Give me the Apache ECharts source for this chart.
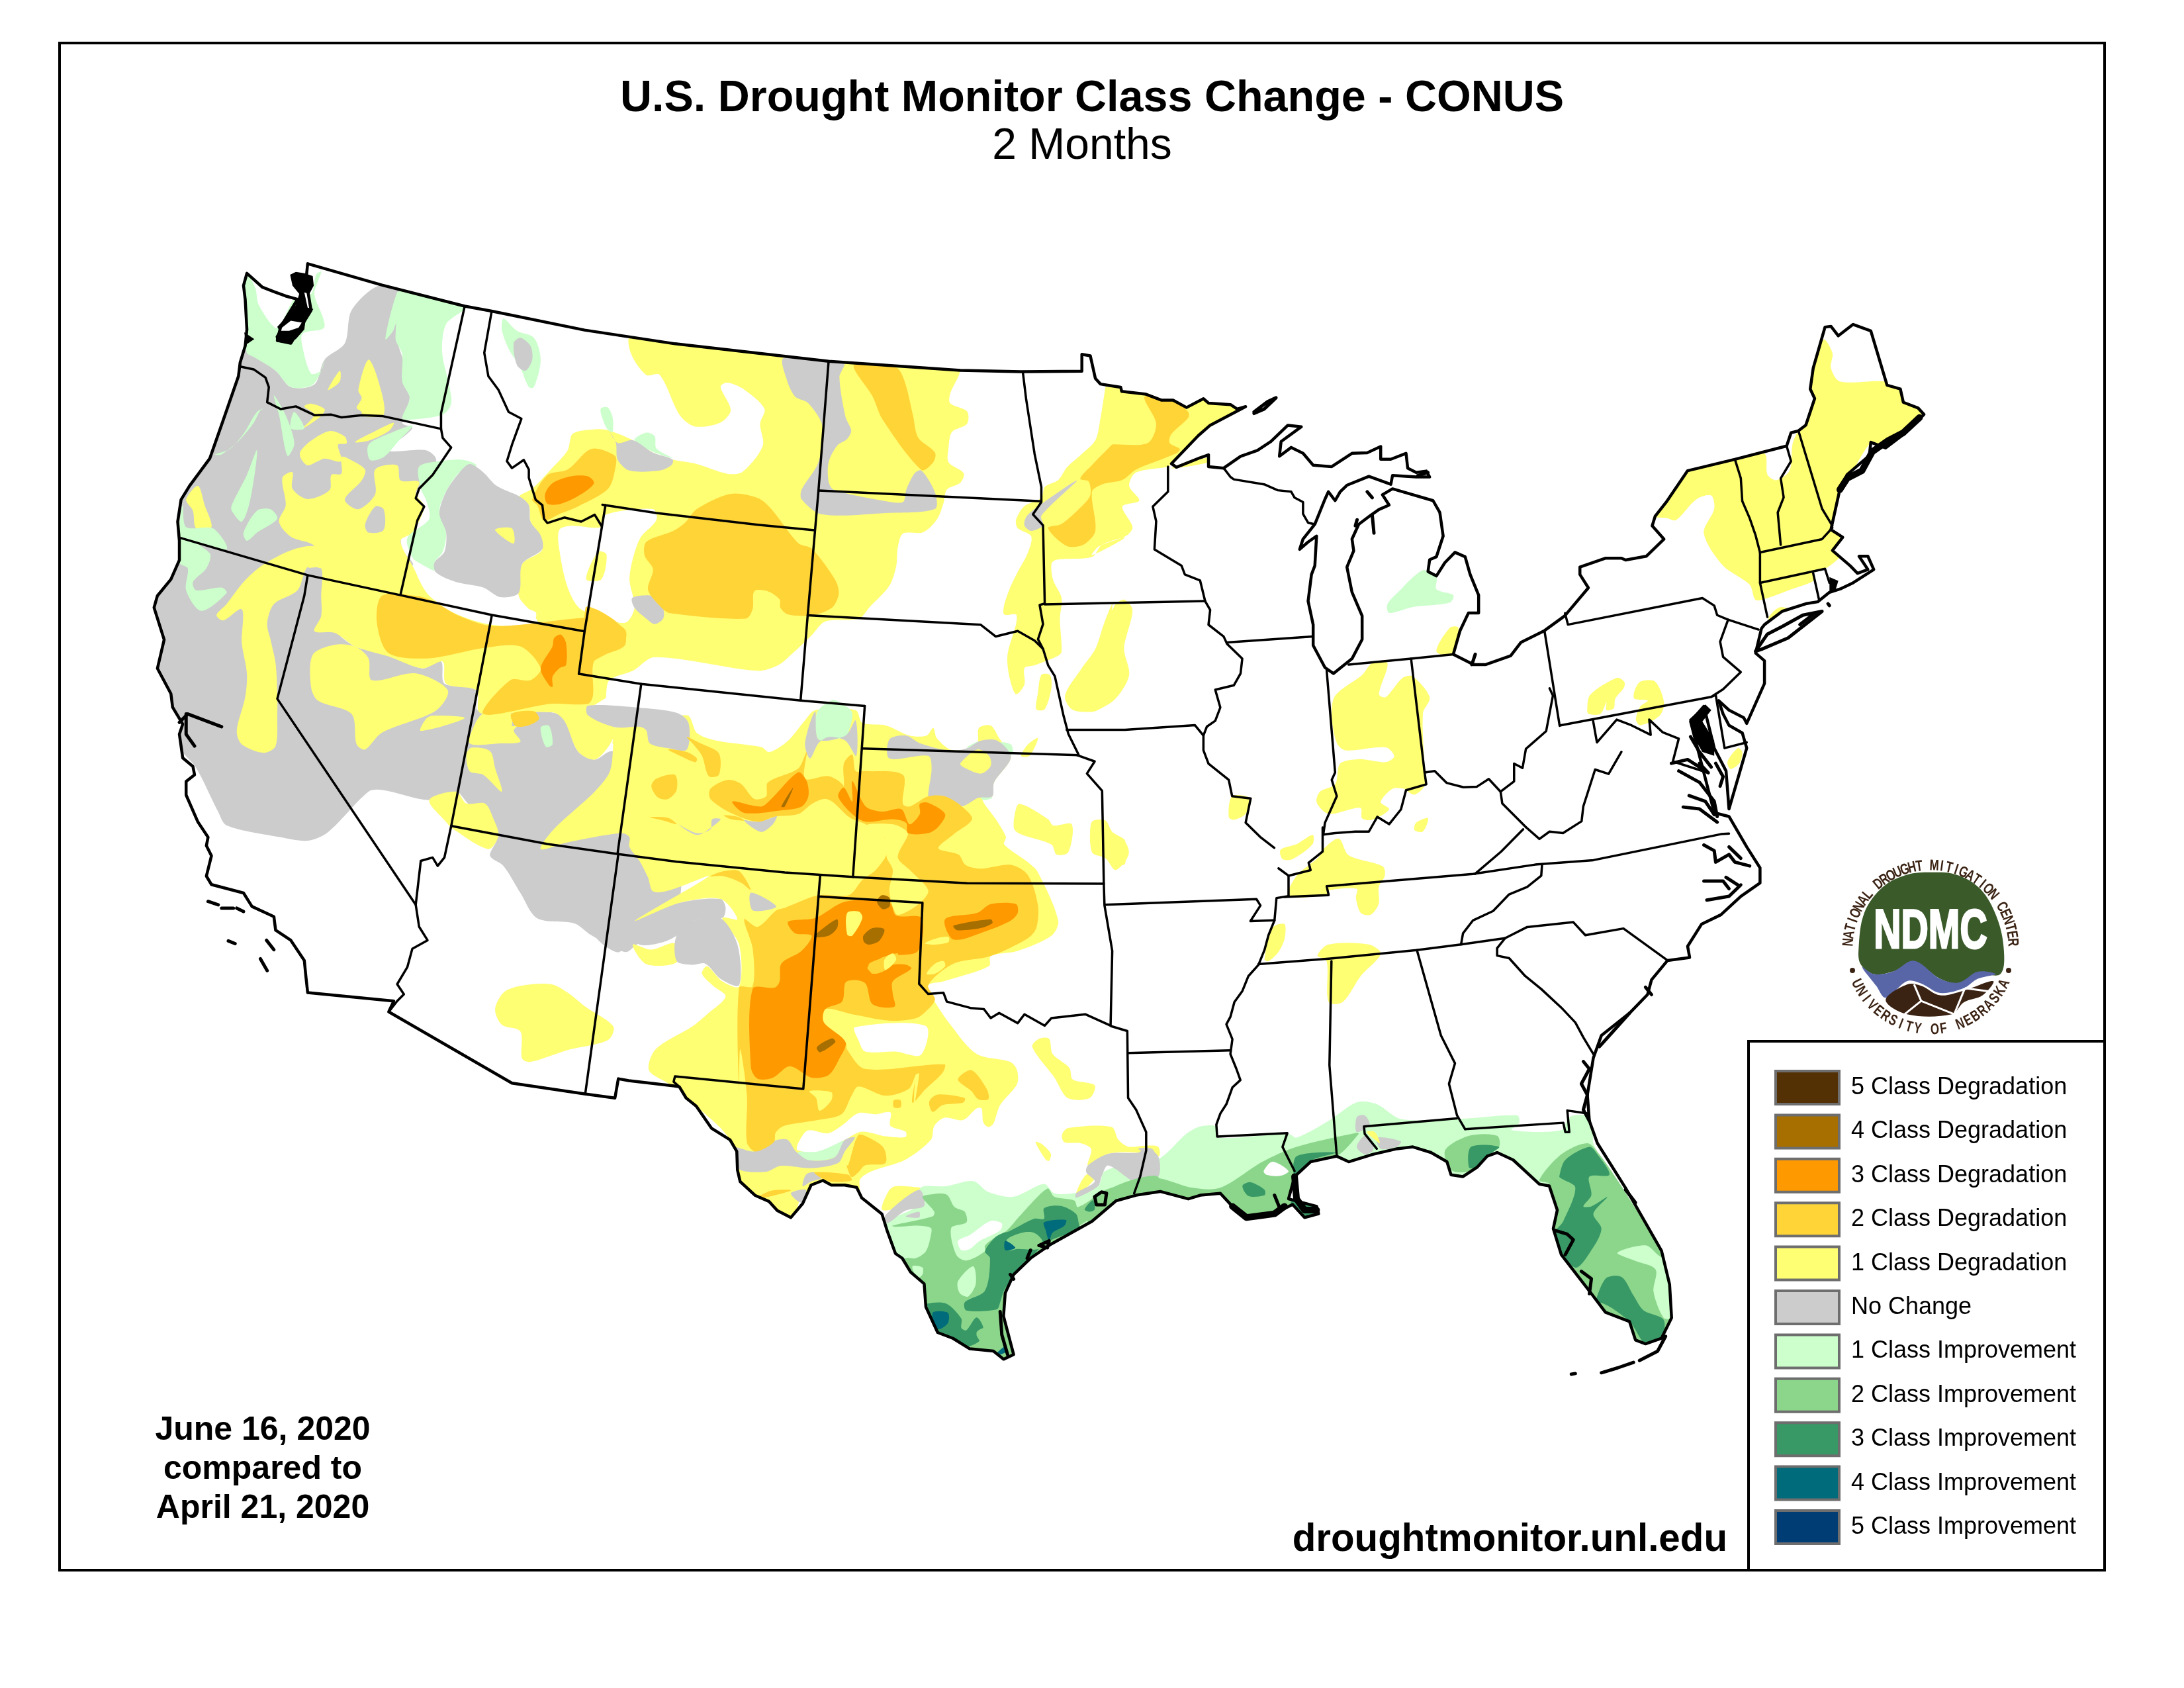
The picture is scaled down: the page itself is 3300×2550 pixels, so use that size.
<!DOCTYPE html>
<html>
<head>
<meta charset="utf-8">
<title>U.S. Drought Monitor Class Change</title>
<script src="https://cdn.jsdelivr.net/npm/echarts@6/dist/echarts.min.js"></script>
<style>html,body{margin:0;background:#fff}#chart{width:3300px;height:2550px}</style>
</head>
<body>
<div id="chart"></div>
<script>
const crop = (x0, y0, fx, fy) => (...v) => {
  const out = [];
  for (let i = 0; i < v.length; i += 2) out.push([x0 + v[i] / fx, y0 + v[i + 1] / fy]);
  return out;
};
const A = crop(220, 390, 1.96, 2.412);
const B = crop(220, 900, 1.96, 1.96);
const C = crop(900, 520, 1.96, 2.412);
const D = crop(900, 1050, 1.96, 2.613);
const E = crop(950, 1550, 1.96, 2.851);
const F = crop(1650, 600, 1.96, 2.24);
const G = crop(1650, 1250, 1.65, 1.782);
const H = crop(2300, 470, 2.24, 1.742);

const legendNames = ['5 Class Degradation', '4 Class Degradation', '3 Class Degradation', '2 Class Degradation', '1 Class Degradation', 'No Change', '1 Class Improvement', '2 Class Improvement', '3 Class Improvement', '4 Class Improvement', '5 Class Improvement'];
const legendColors = ['#543005', '#A66F00', '#FF9900', '#FFD437', '#FFFF73', '#CCCCCC', '#CCFFCC', '#8CD68C', '#389966', '#006B7A', '#003D75'];
const dateLines = ['June 16, 2020', 'compared to', 'April 21, 2020'];

const usOutline = [
  ...A(480,20,700,98,945,175,1025,193,1300,262,1568,312),
  ...C(690,62,1080,95,1260,100,1440,98,1440,37,1465,42,1480,125,1495,145,1520,150,1555,157,1558,172),
  ...F(160,-10,205,10,240,10,280,35,330,5,345,20,410,25,430,40,455,32,350,95,315,130,235,225,250,237,320,205,345,195,345,235,390,240,440,200,490,180,530,150,580,95,620,100,560,150,555,200,590,170,625,190,655,230,710,235,770,190,815,188,855,167,855,210,885,210,930,190,935,240,960,255,990,250,1000,270,960,270,890,265,885,295,820,268,755,298,735,320,720,350,700,320,690,345,660,430,625,480,615,515,640,490,665,470,660,570,650,600,640,690,655,770,655,840,690,915,715,935,770,885,800,820,800,740,770,660,755,575,775,520,770,480,790,430,825,400,850,380,880,365,860,330,890,310,920,320,1010,350,1030,390,1040,470,1020,540,1000,550,995,590,1020,605,1045,560,1075,525,1105,540,1120,600,1145,670,1145,730,1115,730,1090,790,1070,870,1130,905,1165,905,1240,875,1270,830,1340,790,1400,740,1470,645,1445,600,1445,575,1520,545,1568,545),
  ...H(350,655,420,645,480,600,440,565,450,540,490,500,560,420,720,390,895,355,910,320,935,315,960,300,990,230,975,205,985,150,1025,42,1045,40,1070,65,1120,35,1180,52,1235,195,1280,205,1290,240,1340,255,1360,272,1290,325,1230,360,1180,345,1175,380,1100,430,1075,470,1055,540,1045,575,1085,595,1050,630,1110,670,1135,690,1170,680,1140,645,1170,645,1190,680,1120,715,1080,730,1040,740,1000,765,960,770,880,790,820,825,810,835,790,900,820,920,820,980,760,1085,750,1070,700,1050,665,1025,680,1060,700,1090,745,1110,760,1150,745,1190,700,1310,690,1210,650,1150,615,1040,570,1080,610,1200,650,1320,700,1330,760,1410,805,1465,805,1505,740,1540),
  ...G(1568,235,1520,260,1485,320,1490,350,1435,358,1395,410,1385,450,1340,500,1270,560,1250,620,1235,720,1240,790,1260,850,1330,970,1420,1140,1440,1230,1445,1320,1420,1375,1380,1390,1355,1380,1340,1330,1280,1305,1245,1255,1220,1220,1170,1150,1150,1080,1160,1030,1140,965,1115,960,1050,895,1010,875,985,885,960,915,925,940,895,935,885,900,845,875,800,860,760,865,700,880,640,900,610,885,545,900,505,940,490,1000,560,1020,565,1040,530,1050,500,1015,455,1040,390,1050,350,1020,320,985,270,990,240,1000,170,980,110,990,60,1005),
  ...E(1372,841,1250,940,1190,1000,1140,1070,1115,1150,1110,1250,1140,1415,1110,1435,1080,1400,1010,1390,960,1345,915,1320,880,1210,875,1110,835,1060,810,1000,790,980,765,880,750,810,690,740,675,695,640,685,600,685,575,665,540,685,515,765,480,825,440,795,415,755,375,730,330,670,322,620,320,540,300,490,245,440,200,345,170,310,150,262,135,258,0,235),
  ...B(1400,1430,1390,1487,1300,1475,1085,1443,720,1232,735,1200,480,1175,475,1130,470,1080,430,1020,385,990,380,950,315,920,290,880,195,855,180,830,195,770,180,740,185,715,155,670,120,590,120,550,145,530,140,505,110,480,100,410,110,380,80,330,75,290,35,215,55,130,25,35),
  ...A(35,1230,75,1170,100,1100,100,1030,95,960,105,880,130,830,190,730,230,590,275,430,280,380,295,320,300,260,295,150,290,100,300,55,345,105,380,122,415,138,450,150,400,250,390,300,430,310,490,190,475,80)
];

const stateLines = [
  A(280,395,320,405,355,435,365,470,360,525,400,550,445,540,500,572,550,570,580,580,640,572,700,575,875,622),
  A(945,175,875,565,875,622),
  A(875,622,880,655,905,690,850,790,810,840,800,875,825,905,805,955,755,1225),
  A(105,1020,480,1155,755,1228,1025,1300,1300,1360),
  A(1025,193,1003,345,1015,430,1045,480,1075,560,1113,585,1085,680,1070,740,1085,765,1120,735,1135,770,1135,800,1155,880,1175,900,1180,950,1190,965,1240,945,1290,960,1330,935,1350,975),
  C(20,585,180,615,480,658,648,678),
  A(1362,900,1300,1360,1283,1515),
  C(-49,1201,135,1238,607,1298,797,1318),
  C(690,62,660,533,628,988,607,1298),
  C(660,533,1320,572),
  C(628,988,1140,1022,1185,1065,1250,1045,1300,1080,1325,1110),
  C(1265,100,1275,200,1300,400,1320,520,1320,575,1295,620,1325,660,1330,945,1315,950,1325,1020,1310,1075,1325,1110,1340,1170,1360,1210,1385,1350,1400,1420,1430,1495),
  D(1425,237,1478,262,1455,310,1500,378,1505,745,1507,830,1530,1010,1525,1305),
  [...C(1395,1405,1568,1405), ...F(305,1110,330,1145)],
  [...C(1330,948), ...F(335,690)],
  C(790,1473,1430,1497),
  [...C(135,1238), ...D(65,625)],
  D(797,43,762,718),
  [...B(908,682,1190,735,1400,765), ...D(240,658,560,700,762,718,1100,743,1505,745)],
  B(1400,765,1302,1475),
  [...A(1025,1300), ...B(1025,60,905,682)],
  [...A(480,1155), ...B(470,0,390,305,800,915)],
  B(905,682,885,775,865,800,850,775,815,785,800,915,810,980,835,1020,790,1045,775,1100,745,1150,765,1180,745,1200,720,1232),
  D(665,712,660,795,968,820,958,1140,985,1180,1030,1175,1040,1210,1110,1235,1150,1240,1170,1275,1195,1255,1250,1295,1270,1260,1330,1305,1350,1275,1450,1260,1525,1305),
  [...D(660,795,615,1555,235,1505), ...E(133,240,150,262)],
  G(33,208,410,193,420,210,395,252,455,250),
  G(48,535,88,548,90,728,110,760,135,820,135,870,120,940,105,985),
  G(90,607,345,600),
  G(490,185,460,190,455,250,440,290,430,330,415,370,390,400,375,440,355,470,345,510,335,530,350,570,345,610,360,650,370,680,350,700,335,745,320,770,310,800,312,832,487,823,475,860,505,925),
  F(335,690,350,720,345,770,390,810,400,835,445,885,440,935,420,975,365,990,380,1050,365,1095,340,1115,330,1145,330,1195,345,1240,405,1295,415,1350,470,1358,455,1440,500,1490,540,1525),
  G(465,110,490,130,490,185),
  F(400,830,655,810),
  F(225,235,225,320,180,370,190,420,185,515,265,570,275,600,320,620,335,690),
  F(390,240,410,270,420,278,510,295,550,315,590,320,600,340,625,355,625,395,640,425,660,430),
  F(695,925,720,1270,710,1295,725,1350,690,1440,685,1480),
  G(575,0,575,65,540,95,545,115,490,130),
  F(685,1480,720,1475,780,1470,820,1470,845,1420,880,1445,915,1395,930,1330,990,1310,985,1270,1015,1265,1050,1305,1100,1320,1140,1318,1175,1292,1210,1335,1250,1300,1250,1240,1275,1255,1285,1190,1305,1170,1345,1130,1365,1010,1355,985),
  F(945,885,985,1270),
  F(760,905,945,885,1070,870),
  F(1340,790,1385,1112),
  H(130,1090,640,1015),
  H(145,795,155,825,610,755,650,775,660,800,697,812,800,838),
  H(697,812,670,870,680,910,740,950,680,995,640,1015,655,1010,685,1150,760,1135),
  H(720,390,740,440,745,500,770,545,790,590,805,635,805,715,830,805),
  H(895,355,910,395,875,440,885,490,865,530,875,615),
  H(935,315,1015,520,1050,565),
  H(805,635,1015,600,1050,570),
  H(805,715,1025,678,1040,715),
  H(985,690,1005,760),
  H(240,1078,253,1135,320,1075,370,1090,435,1115,430,1075,475,1108,530,1125,510,1185,630,1215),
  F(1285,1455,1325,1495,1355,1470,1395,1475,1450,1435,1455,1385,1490,1260,1530,1275,1568,1200),
  F(1210,1335,1215,1375,1285,1455),
  G(955,125,1020,65,1075,5),
  [...G(480,187,590,182,585,158,950,125,1105,100,1250,88,1568,18), ...H(700,1375)],
  G(415,368,595,353,810,330,920,315,1030,298),
  G(920,315,925,285,950,250,1000,225,1040,180,1085,160,1120,130,1122,100),
  G(1030,298,1085,268,1200,255,1230,290,1325,272,1435,358),
  G(1030,298,1010,325,1010,345,1040,352,1080,400,1120,435,1170,485,1205,525,1225,565,1250,610),
  G(597,360,592,640,610,880),
  G(810,330,870,560,905,635,890,690,910,775,930,812),
  G(710,865,680,825,678,805,910,783),
  G(930,812,1175,795,1180,820,1190,820,1185,762,1235,770)
];

const coastStrokes = [
  H(505,1190,560,1180,630,1215,600,1190), H(530,1210,600,1240,650,1290,660,1330), H(565,1275,620,1290,650,1325), H(545,1305,600,1310,660,1345),
  H(570,1120,600,1160,640,1200), H(655,1190,680,1225,670,1250),
  H(615,1405,650,1420,655,1450,700,1430,720,1450,770,1460), H(700,1410,740,1440), H(615,1500,680,1500,700,1520), H(690,1490,730,1510), H(625,1550,700,1540,740,1510),
  H(790,895,830,850,880,830,950,800,1015,790,900,860,810,890,790,895),
  H(940,825,990,795),
  G(455,990,470,1030),
  G(1155,1085,1185,1095,1200,1110,1180,1150), G(1220,1195,1245,1215,1240,1255), G(1330,975,1355,1010),
  G(1195,1472,1205,1470), G(1270,1468,1310,1455,1350,1440), G(1365,1435,1410,1410,1430,1370),
  G(1225,630,1240,650,1220,690,1235,720,1225,760,1240,790), G(1265,590,1290,560,1340,500), G(1380,430,1395,450),
  E(1100,1230,1105,1330,1122,1415), E(1380,735,1400,715,1415,720,1410,770,1385,770,1380,735),
  E(1180,1000,1190,965), E(1215,945,1245,925,1240,955,1215,945), E(1130,1070,1140,1090),
  B(100,375,125,350,225,388), B(120,350,120,410,145,445), B(185,905,215,915), B(225,925,260,925), B(270,925,290,935), B(245,1022,265,1030), B(358,1020,380,1048), B(340,1075,360,1110),
  F(480,50,520,15,545,2,510,40,480,55), F(815,320,830,340), F(830,400,835,460), F(785,415,780,435), F(1125,905,1135,870),
  F(965,265,995,255), H(1035,770,1040,775)
];

const coastHeavy = [
  H(1075,470,1100,440,1150,420,1185,370,1240,340,1290,320,1345,280),
  G(350,1020,385,1050,420,1045,455,1040,480,1020),
  G(505,940,510,1000,530,1030,560,1030)
];

const coastClumps = [
  A(428,60,445,50,470,55,495,65,498,100,485,130,470,125,480,180,497,185,475,215,470,260,445,295,420,310,388,305,385,285,395,265,425,265,460,250,465,235,430,228,395,262,390,250,420,210,445,170,455,130,435,100),
  A(292,270,322,295,298,315),
  H(565,1075,620,1035,640,1050,610,1080,650,1130,650,1170,610,1160,580,1120),
  H(1040,700,1070,710,1060,735,1040,740)
];

const noChangeBase = [
  A(290,340,385,410,430,470,500,460,530,370,590,310,610,190,690,100,760,120,745,290,770,400,782,510,760,600,790,620,720,700,830,700,860,730,850,780,800,860,810,950,760,990,760,1060,790,1120,520,1230,30,1290,-60,1100,100,800,200,600),
  B(-20,0,520,0,560,100,620,150,720,175,820,215,875,195,885,260,980,275,985,340,1200,345,1240,365,1280,460,1330,485,1380,460,1568,480,1568,1000,1460,1030,1420,1055,1320,1005,1270,970,1160,955,1110,880,1060,800,1020,770,1040,720,1020,695,950,610,920,580,840,605,700,575,660,580,540,700,480,725,400,715,240,680,215,640,150,510,100,450,-20,200)
];

const degrade1 = [
  // Oregon south east, Nevada, Utah
  [...A(405,800,435,780,435,840,480,878,545,845,550,790,580,785,580,725,600,730,650,770,640,810,590,880,630,915,680,860,680,770,745,755,755,810,810,815,800,860,825,905,790,1000,755,1030,790,1120,820,1185,880,1270,1000,1330,1150,1340),
   ...B(1300,60,1310,325,1390,390,1375,440,1330,485,1280,460,1240,370,1205,345,1000,350,985,340,980,280,890,260,880,195,820,215,720,180,620,150,560,110,500,105,520,60,520,0),
   ...A(520,1130,480,1125,500,1050,430,1015,395,960,415,900)],
  // Sierra strip
  [...A(210,1300,240,1260,290,1180,345,1120,430,1065,500,1050,520,1090,530,1130,480,1125,450,1210,380,1260,360,1330),
   ...B(370,130,385,200,390,290,390,350,385,445,350,465,285,440,270,400,295,300,300,230,285,140,285,40),
   ...A(230,1320)],
  // Oregon small pieces
  A(458,705,490,665,545,630,590,650,595,675,570,680,580,740,530,730,510,740,480,755,460,730),
  A(625,545,640,510,630,480,660,370,690,450,705,570,640,575,640,560),
  A(465,620,520,575,530,550,490,530,470,540,500,570),
  A(620,670,680,630,735,600,720,630,660,665),
  A(540,480,575,410,575,450),
  A(120,880,155,830,175,900,195,980,150,985,140,920),
  // Nevada and Utah inside the grey
  B(495,175,560,145,620,150,660,185,670,250,800,230,895,280,860,340,700,405,650,455,625,440,610,350,510,310,490,270),
  B(815,400,830,365,850,355,945,362),
  B(950,470,965,450,1020,460,1035,510,1055,580,1000,530,960,520),
  B(840,605,920,580,950,615,1005,615,1030,660,1045,710,1015,750,910,690,890,670),
  B(960,437,975,380,1000,350,1090,350,1085,385,1100,385,1090,400,1110,432,1050,437),
  B(1035,1225,1060,1175,1110,1155,1200,1150,1250,1175,1300,1215,1385,1275,1370,1315,1250,1345,1140,1380,1115,1370,1110,1290,1055,1270),
  // northern plains
  [...C(105,-30,105,35,150,112,190,112,250,260,295,300,370,285,400,240,370,155,390,140,440,165,500,235,487,290,495,370,435,465,390,472,295,435,228,420,170,395,110,350,40,315,0,310),
   ...A(1265,640,1250,700,1200,770,1145,840,1105,870,1135,900,1140,960,1175,1060,1115,1115,1105,1230,1150,1300),
   ...B(1310,325,1362,304),
   ...C(30,1290,40,1225,110,1190,175,1140,480,1190,540,1170,580,1130,640,1060,680,1010,780,1000,810,960,870,880,890,810,895,740,910,690,970,685,1010,640,1030,580,1040,530,1080,505,1090,470,1045,430,1045,380,1055,320,1100,290,1100,245,1050,215,1050,180,1080,95,1080,-30)],
  // Minnesota to Iowa
  [...C(1510,155,1495,270,1480,350,1440,400,1395,450,1370,495,1330,520,1320,560,1270,590,1245,640,1250,670,1290,700,1280,760,1250,830,1230,880,1210,950,1210,985,1245,985,1245,1020,1220,1130,1225,1210,1245,1275,1270,1240,1270,1180,1300,1170,1370,1135,1380,1120,1375,1000,1380,925,1355,860,1350,800,1365,785,1470,775,1500,730,1568,705),
   ...F(0,535,20,505,100,470,120,440,90,370,140,350,110,300,130,255,225,235,235,225,300,150,450,32,340,5,205,5,100,-30,40,-35)],
  F(235,240,340,205,345,220,250,240),
  C(1305,1330,1310,1270,1320,1205,1345,1205,1350,1250,1330,1330),
  [...C(1390,1280,1440,1180,1480,1110,1505,1020,1530,945),
   ...F(60,720,70,700,95,685,120,720,95,850,110,940,70,1020,15,1060),
   ...C(1460,1340,1410,1330)],
  // central and southern plains, Texas
  [...D(0,130,270,80,300,150,360,180,490,205,515,225,570,180,620,100,650,60,770,60,790,110,860,120,930,160,980,160,1000,130,1010,170,1050,215,1090,215,1130,190,1135,130,1170,120,1195,170,1230,245,1180,345,1175,400,1145,410,1185,490,1215,560,1210,590,1280,660,1310,700,1370,890,1350,950,1250,1010,1170,1030,1165,1070,1030,1130,985,1145,1000,1200,1050,1300),
   ...E(1030,120,1130,155,1150,190,1150,250,1100,340,1080,420,1065,435,1050,415,1045,355,1030,355,990,405,935,395,905,430,895,490,820,575,720,625,685,660,680,720,520,720,480,850,370,740,320,640,300,490,200,345,120,250,60,190,80,100,190,0),
   ...D(330,1260,385,1190,350,1150,315,1100,330,1070,375,1130,425,1150,425,985,375,880,420,885,370,805,250,820,115,892,335,715,220,770,170,775,155,720,130,655,100,600,100,560,75,545),
   ...B(1250,730,1170,750,1210,690,1330,580,1375,520,1385,440),
   ...D(50,190,60,130,130,125)],
  D(110,985,165,1005,235,980,240,1055,150,1062),
  D(1240,480,1255,430,1340,490,1355,515,1410,510,1400,620,1365,630,1350,590,1260,550,1240,530),
  D(1470,500,1510,495,1530,540,1568,575,1568,665,1545,670,1530,600,1470,560),
  F(0,1440,40,1450,55,1490,100,1510,108,1550,70,1600,40,1560,0,1540),
  D(1285,240,1310,170,1280,195,1260,240),
  E(1195,90,1215,55,1245,55,1255,120,1305,180,1315,230,1380,255,1365,310,1300,310,1260,220),
  E(1283,470,1300,440,1430,435,1450,490,1480,520,1530,515,1568,520,1570,560,1510,545,1420,550,1360,600,1370,530,1340,505,1290,500),
  E(1205,500,1225,510,1250,550,1245,580,1235,575),
  E(770,710,790,690,860,695,865,700,790,785,750,790),
  E(1355,640,1380,655,1340,715,1325,720),
  // midwest and south
  F(710,1080,720,1010,800,940,830,900,875,900,850,1005,870,1015,920,950,950,945,1000,1015,980,1070,985,1260,985,1315,955,1345,930,1330,925,1325,890,1325,855,1370,880,1395,830,1430,800,1425,795,1390,715,1410,690,1405,665,1370,675,1335,720,1310,735,1240,790,1225,870,1235,895,1215,870,1185,750,1195,725,1170),
  F(405,1420,415,1350,470,1358,455,1410,420,1430),
  F(955,1465,960,1440,995,1425,980,1470),
  F(1060,780,1085,780,1075,850,1065,875,1020,860),
  G(470,60,510,45,550,20,550,45,500,85,475,85),
  G(510,130,565,80,575,60,615,30,640,75,725,105,730,130,715,160,715,205,695,235,670,230,658,190,660,165,585,170,590,180,490,185),
  G(430,355,450,270,480,260,480,300,465,335,440,360),
  G(562,345,590,315,690,315,720,340,670,400,625,470,590,470,585,360),
  // north east
  H(220,1050,230,1010,320,965,345,975,345,990,315,1020,310,1045,285,1050,285,1030,265,1060,225,1060),
  H(380,1000,400,975,450,975,480,1030,465,1065,400,1090,385,1075,400,1040,425,1025,380,1020),
  H(450,540,490,500,560,420,720,390,820,375,830,430,860,445,905,420,915,350,935,315,960,300,990,230,975,205,985,150,1020,75,1050,110,1045,150,1075,185,1225,185,1240,200,1280,205,1340,255,1360,280,1300,310,1230,360,1180,345,1060,520,1050,570,1085,595,1050,630,1075,645,1050,665,1020,680,985,690,985,710,900,735,830,755,790,760,770,720,680,670,615,585,650,520,640,485,590,495,520,550,490,545),
  H(835,805,870,780,905,785,880,800,835,825),
  H(885,835,940,820,930,830,890,845),
  H(695,1185,730,1150,745,1160,735,1190,705,1205)
];

const cleared = [
  A(800,1125,900,1180,1000,1250,1100,1270,1155,1290,1150,1320,1020,1330,940,1300,840,1230),
  A(1225,990,1260,975,1350,980,1363,934,1503,914,1513,954,1463,1024,1433,1164,1448,1274,1418,1329,1290,1280,1250,1200,1225,1060)
];

const improve1 = [
  A(290,100,300,55,325,110,335,170,385,255,405,230,440,150,490,130,505,60,520,50,500,130,525,215,528,255,465,275,465,325,490,420,520,410,530,370,515,425,490,465,430,470,385,410,320,360,300,345,295,260),
  A(770,125,945,178,890,240,878,340,900,470,905,530,880,570,770,590,760,580,782,510,760,450,760,350,740,290),
  A(710,295,745,125,765,125,735,260),
  A(660,680,720,640,790,610,750,665,705,725,665,735),
  A(205,715,250,695,290,640,330,560,355,545,340,555,320,600,280,660,225,715),
  A(380,500,410,560,430,620,440,680,420,720,395,570),
  A(440,560,470,620,430,620),
  A(255,900,300,790,330,700,310,880,285,960,255,920),
  A(290,1000,330,920,370,915,390,950,330,1000,300,1030),
  A(105,1020,190,1075,180,1130,140,1180,150,1210,225,1200,240,1220,165,1285,120,1210,125,1130,100,1110),
  A(110,900,120,980,200,985,240,1060,105,1020,100,980),
  A(810,760,870,740,940,735,980,755,930,780,890,850,870,920,890,1000,880,1070,855,1110,860,1140,810,1110,790,1090,775,1020,840,950,830,880,815,840),
  A(1060,220,1100,265,1150,290,1170,370,1150,470,1135,470,1110,400,1075,330,1055,260),
  C(15,235,35,230,50,265,50,320,35,310,20,270),
  C(115,350,150,322,175,335,180,380,228,415,170,392),
  D(655,70,700,20,725,30,760,70,748,150,740,165,660,175),
  D(1140,405,1160,395,1175,405,1150,415),
  D(1180,250,1190,190,1230,195,1235,230,1215,250),
  D(1100,205,1130,185,1150,180,1100,210),
  B(1170,390,1195,385,1205,440,1185,447),
  E(500,545,560,530,640,495,610,565,530,578),
  F(875,700,915,650,960,600,985,585,1020,610,1020,650,1070,670,1060,695,950,710,880,730),
  // gulf coast, left to right, the coast clip cuts it off
  [...E(760,850,860,770,865,695,940,690,1020,668,1065,715,1140,735,1230,680,1260,720,1320,720,1390,690,1410,625,1510,585),
   ...G(170,890,235,825,270,805,310,805,312,835,490,825,510,835,590,790,660,740,710,745,770,785,910,785,1060,775,1065,795,1045,815,1170,815,1190,780,1230,775,1250,800,1250,850,1290,930,1500,1450,500,1400),
   ...E(900,1500,700,1000)]
];

const noChangeTop = [
  A(930,780,960,750,1000,780,1040,830,1110,870,1135,900,1140,960,1170,1010,1175,1060,1115,1115,1105,1220,1050,1235,1000,1200,920,1180,860,1145,855,1110,885,1070,890,1000,870,930,890,850),
  A(1090,310,1110,290,1140,320,1145,370,1125,410,1100,390),
  A(650,970,680,905,705,915,705,990,660,1000),
  C(557,50,735,68,722,120,740,265,757,315,745,345,715,370,690,430,690,500,705,530,850,570,910,575,920,530,945,470,965,460,1005,540,1005,600,860,615,670,620,610,565,610,530,660,430,672,300,630,215,590,190,565,125),
  C(40,315,65,360,110,350,170,395,228,420,225,440,190,460,100,460,65,420,60,360),
  C(108,925,150,915,170,920,200,965,200,1000,175,1020,150,1000,115,960),
  C(1425,497,1320,625,1325,660,1290,680,1270,660,1275,630,1300,600),
  D(-23,42,-23,80,57,127,130,125,150,140,160,190,215,210,270,215,275,110,240,70,130,50),
  D(620,190,650,65,660,175,740,160,770,100,772,240,740,180,690,165,660,190,635,250),
  D(870,175,920,160,960,190,1050,220,1100,210,1140,180,1190,180,1230,245,1180,345,1175,400,1135,405,1080,440,1000,400,985,400,995,290,985,240,870,250),
  D(440,495,490,540,525,510,540,470,530,480,480,500),
  D(245,510,300,552,345,520,370,490,345,490,340,530,300,545),
  D(460,780,535,835,465,850),
  D(885,600,910,560,895,620),
  // New Mexico, east of the western grey
  D(0,955,70,1015,100,925,130,985,200,975,240,950,300,885,375,880,385,840,370,805,250,820,115,892,0,880),
  D(240,950,300,885,370,880,420,985,425,1145,370,1120,325,1060,285,1065,240,1050),
  E(312,525,370,540,430,495,470,490,495,540,535,578,610,565,640,490,670,480,640,540,620,590,540,612,450,602,405,628,325,615),
  E(515,690,525,640,550,630,570,655,540,670),
  E(480,720,525,705,510,760),
  E(760,815,860,705,875,775,820,795,765,850),
  E(820,820,860,800,860,825),
  E(1360,600,1420,550,1510,545,1530,525,1568,560,1568,650,1510,680,1420,600,1400,650,1390,690,1325,740,1325,720,1380,670,1355,630),
  E(1165,810,1210,715,1160,820),
  G(115,865,150,865,162,900,150,935,125,940,135,880),
  G(660,780,680,775,692,800,660,820),
  G(660,860,680,830,700,850,700,870,680,880),
  G(710,835,770,845,760,860,720,865)
];

const degrade1InGrey = [
  D(1080,270,1130,215,1165,240,1170,280,1140,310,1090,285),
  A(1035,990,1085,985,1090,1040),
  G(685,820,705,820,718,850,705,840),
  A(1305,1170,1340,1070,1365,1080,1350,1170)
];

const degrade2 = [
  C(765,75,890,85,915,135,940,260,955,340,1005,395,1000,430,965,458,850,275,820,190),
  C(265,650,300,600,400,545,480,560,520,600,600,725,640,745,710,860,720,910,700,960,640,988,570,985,547,960,545,930,510,900,470,900,465,965,445,1000,220,980,195,960,155,895,170,820,145,770,150,720,230,680),
  B(700,0,685,80,720,170,840,185,1000,155,1110,150,1170,215,1140,250,1080,250,1000,350,1200,320,1310,320,1325,295,1330,190,1420,130,1420,100,1370,70,1300,65,1030,90,930,60,850,15,800,0),
  C(-30,960,0,965,60,1010,88,1055,85,1100,30,1130,0,1150,-30,1170),
  A(1145,880,1190,790,1250,770,1320,695,1390,720,1392,760,1370,840,1280,905,1230,930,1180,955,1160,900),
  B(1083,350,1150,342,1165,365,1130,385,1095,385),
  [...F(155,0,205,5,240,10,285,50,285,70,235,125,230,155,260,175,250,190,130,245,90,280,30,295,0,320),
   ...C(1480,680,1445,730,1395,735,1340,670,1380,655,1440,590,1465,550,1460,500,1435,490,1470,440,1530,365),
   ...F(60,160,165,155,190,90)],
  D(165,360,180,330,235,315,240,375,215,410,185,405),
  D(215,215,270,225,300,250,295,265,250,240),
  D(270,165,310,190,365,230,365,315,335,320,315,240,290,195),
  D(340,370,390,335,430,350,470,410,505,400,510,345,600,290,625,225,620,330,690,320,735,360,720,400,750,480,700,420,675,410,640,430,600,470,530,480,480,500,400,465,340,410),
  D(340,715,380,695,425,695,460,770,430,740,380,715),
  D(160,482,215,485,240,510,200,495),
  D(380,475,420,480,440,495,400,490),
  // Kansas, Oklahoma, Texas panhandle down to the Pecos
  [...D(720,400,735,365,735,270,760,235,770,300,800,300,910,315,910,430,930,440,985,400,1035,400,1085,440,1115,490,1060,550,1015,605,1075,630,1095,670,1140,685,1230,670,1280,710,1310,830,1305,920,1280,960,1170,1030,1060,1060,985,1145,1005,1200,985,1240,950,1275,870,1285,760,1260,680,1240,680,1310,740,1370,745,1400,798,1476),
   ...E(935,165,930,200,880,270,840,330,850,210,830,270,760,300,680,260,660,300,630,380,560,405,460,430,435,460,430,500,375,540,350,500,350,300,330,100),
   ...D(425,1568,425,1155,465,1150,465,1000,440,885,480,915,535,850,560,840,660,790,750,790,790,730,830,690,865,620,860,570,800,510,750,480)],
  E(975,230,1015,190,1060,270,1065,315,1035,315,1015,280),
  E(890,325,915,295,995,310,990,330,930,340,900,370),
  E(785,320,805,320,805,350,785,350),
  E(650,600,680,470,710,480,755,525,760,590,700,600,680,630,660,650,645,600),
  E(550,630,650,640,660,665,600,670,565,650),
  E(380,740,420,710,475,705,480,710,400,740)
];

const degrade1OnOrange = [
  D(800,515,880,510,915,530,925,550,895,640,930,690,985,770,965,815,915,860,890,865,870,775,880,690,862,640,860,570),
  D(975,980,1010,960,1045,955,1045,975,1000,985),
  D(980,1100,1005,1060,1030,1050,1035,1070,1005,1100),
  E(535,280,600,285,600,320,565,365,555,310),
  E(845,340,850,210,860,205)
];

const degrade3 = [
  A(1183,860,1205,820,1260,795,1310,795,1328,820,1290,860,1230,895,1190,895),
  B(1210,125,1230,115,1245,140,1245,205,1225,215,1205,240,1205,270,1195,265,1170,215,1205,150),
  D(405,420,490,440,520,410,600,305,625,340,630,400,610,440,550,455,440,465),
  D(718,400,735,365,760,420,760,340,800,440,850,460,905,450,930,510,960,470,960,430,985,425,1035,470,1015,520,985,545,925,545,920,505,880,490,800,500,760,470),
  D(570,895,650,880,740,815,870,820,890,870,965,880,955,1010,880,1030,810,1060,820,1100,880,1065,920,1065,935,1080,880,1130,880,1180,885,1230,820,1220,800,1140,770,1125,740,1135,730,1210,680,1240,675,1290,740,1370,720,1440,690,1500,640,1510,575,1465,525,1510,480,1515,460,1470,465,1160,530,1155,545,1130,550,1060,610,1010,640,950,590,940),
  D(1035,885,1130,860,1170,825,1245,825,1250,860,1230,890,1160,930,1060,965)
];

const degrade2OnOrange = [
  D(805,1075,850,1035,895,1020,890,1050,860,1085,825,1100)
];

const degrade1Peak = [
  D(745,860,780,855,790,880,760,950,745,945),
  D(855,1045,880,1020,890,1045,858,1085)
];

const degrade4 = [
  D(550,440,585,365,560,440),
  D(660,935,715,885,715,920,690,950,650,955),
  D(793,950,820,920,855,925,840,970,810,985,795,975),
  D(833,815,848,790,870,800,870,835,850,845),
  D(1060,910,1170,885,1175,900,1140,920,1070,928),
  D(655,1390,700,1355,710,1370,665,1410)
];

const clearedTexas = [
  E(670,5,880,0,865,125,790,110,700,110,680,60),
  E(500,510,530,450,590,462,630,430,680,375,730,380,775,372,775,430,820,455,820,478,760,475,690,455,640,490,560,540,500,535)
];

const improve2 = [
  E(875,730,940,725,965,780,995,800,1000,845,955,870,970,985,1000,1010,1055,970,1055,945,1085,910,1120,880,1160,815,1240,700,1260,735,1320,752,1330,780,1400,720,1500,660,1568,650,1568,750,1420,790,1200,1000,1150,1100,1150,1500,1000,1450,800,1050,810,1000,850,1000,880,970,895,900,895,870,860,860,790,865,780,860,900,820,905,800,870,740),
  G(0,1000,60,965,115,945,170,945,250,970,320,970,425,900,510,860,660,822,665,825,610,885,540,900,500,1040,400,1100,200,1050,0,1100),
  G(880,870,940,830,1010,830,1015,860,970,895,960,920,900,925),
  G(1115,950,1170,880,1235,850,1265,880,1340,1000,1430,1170,1445,1330,1390,1400,1340,1360,1200,1220,1150,1060,1140,960)
];

const improve1Top = [
  E(790,940,820,920,860,905,885,935,870,970,810,1000),
  E(800,885,860,875,885,890,880,910,820,900),
  E(840,1035,870,1040,870,1070,855,1085),
  E(975,1100,1020,1035,1028,1110,1005,1165,980,1150),
  G(1310,1145,1380,1125,1410,1150,1430,1170,1445,1320,1425,1320,1400,1250,1405,1190,1350,1165)
];

const clearedGulf = [
  E(975,925,1010,900,1070,840,1105,850,1100,880,1040,925,1010,960,985,965),
  G(428,925,450,900,490,925,470,938,435,935),
  E(1070,1160,1105,1165,1085,1175)
];

const improve3 = [
  E(1055,970,1085,910,1110,890,1125,885,1200,830,1230,830,1230,785,1280,775,1325,810,1335,860,1345,870,1240,930,1190,1000,1115,1130,1100,1190,1090,1220,1000,1225,995,1190,1055,1140,1070,1000),
  E(885,1195,940,1195,985,1260,985,1300,1000,1310,1030,1255,1050,1300,1030,1330,1040,1355,1000,1380,960,1345,915,1320,885,1210),
  E(1350,790,1375,750,1380,790,1365,800),
  G(375,965,395,955,430,975,430,990,390,992),
  G(510,885,610,875,550,895,505,935),
  G(500,1000,560,1020,560,1050,500,1035),
  G(945,860,1015,860,985,885,960,915,940,915),
  G(1165,940,1180,895,1240,860,1260,880,1290,935,1240,940,1245,990,1225,1020,1245,1020,1285,995,1250,1040,1270,1080,1250,1130,1205,1185,1150,1100,1175,1060,1205,970,1170,945),
  G(1250,1300,1280,1215,1320,1210,1350,1260,1375,1300,1425,1325,1420,1375,1380,1390,1340,1330,1270,1280)
];

const improve2OnDeep = [
  E(1120,920,1165,890,1200,890,1225,925,1215,960,1150,960,1125,965),
  E(1030,1320,1055,1300,1080,1335,1070,1365,1045,1365)
];

const improve4 = [
  E(1230,845,1295,835,1290,860,1255,890,1245,925,1235,880),
  E(1115,925,1145,955,1115,965),
  E(900,1235,945,1235,945,1280,915,1305),
  E(1090,1410,1115,1380,1120,1400,1100,1415)
];

const colorOf = name => legendColors[legendNames.indexOf(name)];

const areaSeries = (name, polys) => ({
  type: 'custom',
  name: name,
  coordinateSystem: 'cartesian2d',
  clip: false,
  silent: true,
  itemStyle: { color: colorOf(name) || '#ffffff' },
  data: polys.map(() => [0, 0]),
  renderItem: (params, api) => ({
    type: 'polygon',
    shape: { points: polys[params.dataIndex].map(p => api.coord(p)), smooth: 0.3 },
    style: { fill: colorOf(name) || '#ffffff' },
    clipPath: { type: 'polygon', shape: { points: usOutline.map(p => api.coord(p)) } }
  })
});

const lineSeries = (lines, width, closed) => ({
  type: 'custom',
  coordinateSystem: 'cartesian2d',
  clip: false,
  silent: true,
  data: lines.map(() => [0, 0]),
  renderItem: (params, api) => ({
    type: closed ? 'polygon' : 'polyline',
    shape: { points: lines[params.dataIndex].map(p => api.coord(p)) },
    style: { fill: 'none', stroke: '#000', lineWidth: width, lineJoin: 'round', lineCap: 'round' }
  })
});

const clumpSeries = polys => ({
  type: 'custom',
  coordinateSystem: 'cartesian2d',
  clip: false,
  silent: true,
  data: polys.map(() => [0, 0]),
  renderItem: (params, api) => ({
    type: 'polygon',
    shape: { points: polys[params.dataIndex].map(p => api.coord(p)) },
    style: { fill: '#000' }
  })
});

// logo, glyphs set one by one along the ring
const logoCenter = [2917, 1432];
const ringText = (str, radius, fromDeg, toDeg, below) => {
  const out = [];
  for (let i = 0; i < str.length; i++) {
    const deg = fromDeg + (toDeg - fromDeg) * i / (str.length - 1);
    const rad = deg * Math.PI / 180;
    out.push({
      type: 'text',
      x: logoCenter[0] + radius * Math.cos(rad),
      y: logoCenter[1] - radius * Math.sin(rad),
      rotation: below ? rad + Math.PI / 2 : rad - Math.PI / 2,
      scaleX: 0.74,
      style: { text: str[i], fill: '#3B2314', font: 'bold 23px "Liberation Sans"', textAlign: 'center', textVerticalAlign: 'middle' }
    });
  }
  return out;
};
const L = crop(2660, 1300, 2.8, 1.4);
const logoShape = (pts, fill) => ({ type: 'polygon', shape: { points: pts, smooth: 0.35 }, style: { fill: fill } });
const logo = [
  logoShape(L(415,190,440,110,520,55,620,30,720,25,830,30,930,60,1000,120,1030,190,1015,240,920,240,840,260,760,250,650,215,560,235,480,240,425,220), '#3A5A2A'),
  logoShape(L(430,225,480,240,560,235,650,212,760,250,840,258,920,235,995,240,920,250,860,270,760,280,680,260,620,255,530,290,490,265), '#5866A8'),
  logoShape(L(530,295,620,262,680,265,760,285,860,275,985,255,940,285,860,300,810,325,620,325), '#3B2314'),
  { type: 'polyline', shape: { points: L(650,262,680,297,610,325) }, style: { fill: 'none', stroke: '#fff', lineWidth: 3 } },
  { type: 'polyline', shape: { points: L(680,297,820,325,865,270) }, style: { fill: 'none', stroke: '#fff', lineWidth: 3 } },
  { type: 'polyline', shape: { points: L(865,270,985,278) }, style: { fill: 'none', stroke: '#fff', lineWidth: 3 } },
  { type: 'text', x: 2917, y: 1409, scaleX: 0.68, style: { text: 'NDMC', fill: '#fff', stroke: '#fff', lineWidth: 3, font: 'bold 84px "Liberation Sans"', textAlign: 'center', textVerticalAlign: 'middle' } },
  ...ringText('NATIONAL DROUGHT MITIGATION CENTER', 124, 176, 4, false),
  ...ringText('UNIVERSITY OF NEBRASKA', 124, 206, 334, true),
  { type: 'circle', shape: { cx: 2799, cy: 1466, r: 4 }, style: { fill: '#3B2314' } },
  { type: 'circle', shape: { cx: 3035, cy: 1466, r: 4 }, style: { fill: '#3B2314' } }
];

const sideText = (text, x, y, size, align) => ({
  type: 'text', x: x, y: y,
  style: { text: text, fill: '#000', font: 'bold ' + size + 'px "Liberation Sans"', textAlign: align, textVerticalAlign: 'middle' }
});

const chart = echarts.init(document.getElementById('chart'));
chart.setOption({
  backgroundColor: '#ffffff',
  animation: false,
  grid: { left: 0, right: 0, top: 0, bottom: 0 },
  xAxis: { type: 'value', min: 0, max: 3300, show: false },
  yAxis: { type: 'value', min: 0, max: 2550, inverse: true, show: false },
  title: [
    { text: 'U.S. Drought Monitor Class Change - CONUS', left: 1650, top: 116, textAlign: 'center', padding: 0,
      textStyle: { fontFamily: 'Liberation Sans', fontWeight: 'bold', fontSize: 66.5, color: '#000' } },
    { text: '2 Months', left: 1635, top: 189, textAlign: 'center', padding: 0,
      textStyle: { fontFamily: 'Liberation Sans', fontWeight: 'normal', fontSize: 66, color: '#000' } }
  ],
  legend: {
    orient: 'vertical',
    left: 2681,
    top: 1616,
    padding: 0,
    data: legendNames,
    icon: 'rect',
    itemWidth: 96,
    itemHeight: 50,
    itemGap: 12.4,
    selectedMode: false,
    itemStyle: { borderColor: '#6E6E6E', borderWidth: 4 },
    textStyle: { fontFamily: 'Liberation Sans', fontSize: 36, color: '#000', padding: [0, 0, 0, 13] }
  },
  graphic: [
    { type: 'rect', shape: { x: 90, y: 65, width: 3090, height: 2307 }, style: { fill: 'none', stroke: '#000', lineWidth: 4 } },
    { type: 'rect', shape: { x: 2642, y: 1573, width: 538, height: 799 }, style: { fill: 'none', stroke: '#000', lineWidth: 4 } },
    sideText(dateLines[0], 397, 2161, 50, 'center'),
    sideText(dateLines[1], 397, 2220, 50, 'center'),
    sideText(dateLines[2], 397, 2279, 50, 'center'),
    sideText('droughtmonitor.unl.edu', 2610, 2327, 58.3, 'right'),
    ...logo
  ],
  series: [
    areaSeries('No Change', noChangeBase),
    areaSeries('1 Class Degradation', degrade1),
    areaSeries('cleared', cleared),
    areaSeries('1 Class Improvement', improve1),
    areaSeries('No Change', noChangeTop),
    areaSeries('1 Class Degradation', degrade1InGrey),
    areaSeries('2 Class Degradation', degrade2),
    areaSeries('1 Class Degradation', degrade1OnOrange),
    areaSeries('3 Class Degradation', degrade3),
    areaSeries('2 Class Degradation', degrade2OnOrange),
    areaSeries('1 Class Degradation', degrade1Peak),
    areaSeries('4 Class Degradation', degrade4),
    areaSeries('5 Class Degradation', []),
    areaSeries('cleared', clearedTexas),
    areaSeries('2 Class Improvement', improve2),
    areaSeries('1 Class Improvement', improve1Top),
    areaSeries('cleared', clearedGulf),
    areaSeries('3 Class Improvement', improve3),
    areaSeries('2 Class Improvement', improve2OnDeep),
    areaSeries('4 Class Improvement', improve4),
    areaSeries('5 Class Improvement', []),
    lineSeries(stateLines, 3.5, false),
    lineSeries([usOutline], 4.5, true),
    lineSeries(coastStrokes, 5, false),
    lineSeries(coastHeavy, 10, false),
    clumpSeries(coastClumps)
  ]
});
</script>
</body>
</html>
